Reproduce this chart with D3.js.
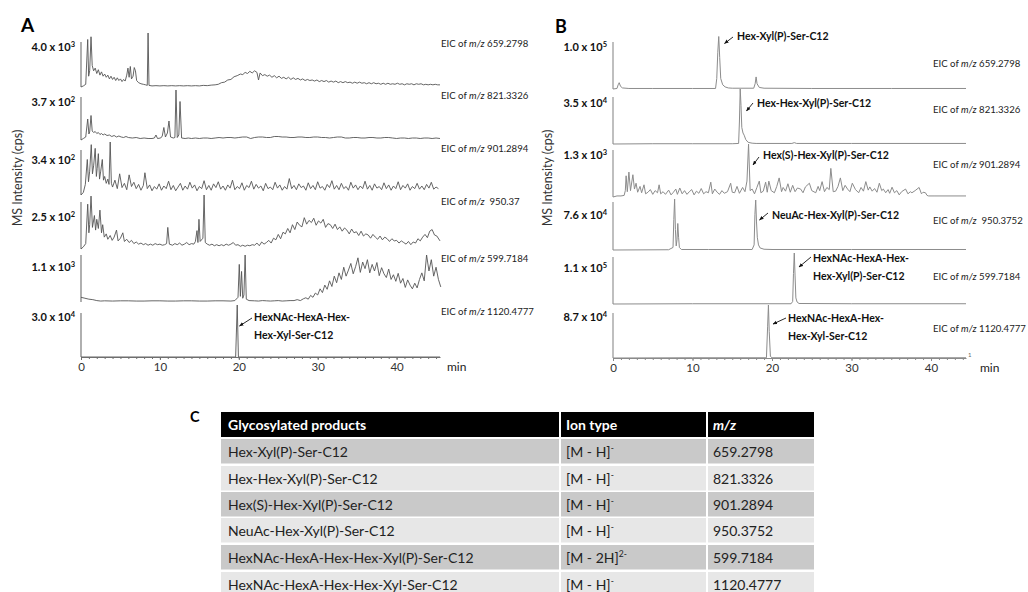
<!DOCTYPE html>
<html><head><meta charset="utf-8">
<script src="https://cdn.jsdelivr.net/npm/d3@7"></script>
<style>
body{margin:0;background:#fff}
svg{display:block;font-family:Lato,"Open Sans",sans-serif}
</style></head><body>
<svg id="fig" width="1028" height="592"></svg>
<script>
// ---- Panel A: EICs (time in min, intensity in % of the stated full scale) ----
const traceA1 = [[0,0],[0.3,2],[0.6,5],[0.85,88],[0.97,20],[1.1,30],[1.27,93],[1.42,40],[1.6,30],[1.8,35],[2.0,25],[2.2,32],[2.4,22],[2.6,28],[2.8,20],[3.0,24],[3.2,18],[3.4,22],[3.6,15],[3.8,20],[4.0,14],[4.2,18],[4.4,12],[4.6,17],[4.8,12],[5.0,15],[5.2,10],[5.4,14],[5.6,11],[5.8,22],[5.95,35],[6.1,18],[6.25,38],[6.4,15],[6.6,20],[6.75,36],[6.9,30],[7.05,12],[7.3,8],[7.6,6],[7.9,5],[8.2,4],[8.4,3],[8.5,100],[8.62,3],[9.0,2],[9.5,2.5],[10,2],[10.5,2.5],[11,2],[11.5,2.5],[12,2],[12.5,2.5],[13,2],[13.5,2.5],[14,2],[14.5,2.5],[15,2],[15.5,3],[16,2.5],[16.5,3.5],[17,4],[17.4,5],[17.8,8],[18.2,9],[18.6,13],[19.0,14],[19.4,19],[19.8,21],[20.2,24],[20.5,23],[20.8,27],[21.1,25],[21.4,29],[21.7,26],[22.0,30],[22.3,27],[22.5,13],[22.7,26],[23.0,21],[23.3,23],[23.6,20],[23.9,22],[24.2,18],[24.5,21],[24.8,17],[25.1,20],[25.4,16],[25.7,18],[26.0,15],[26.3,18],[26.6,14],[26.9,17],[27.2,14],[27.5,16],[27.8,13],[28.1,15],[28.4,12],[28.7,14],[29.0,12],[29.3,13],[29.6,11],[29.9,13],[30.2,10],[30.5,12],[30.8,10],[31.1,12],[31.4,9],[31.7,11],[32.0,9],[32.3,11],[32.6,8],[32.9,10],[33.2,8],[33.5,10],[33.8,8],[34.1,9],[34.4,7],[34.7,9],[35.0,7],[35.3,9],[35.6,7],[35.9,8],[36.2,6],[36.5,8],[36.8,6],[37.1,8],[37.4,6],[37.7,7],[38.0,5],[38.3,7],[38.6,5],[38.9,7],[39.2,5],[39.5,6],[39.8,5],[40.1,7],[40.4,5],[40.7,6],[41.0,4],[41.3,6],[41.6,5],[41.9,6],[42.2,4],[42.5,6],[42.8,5],[43.1,6],[43.4,4],[43.7,5],[44.0,4],[44.3,5],[44.6,4],[44.9,5],[45.2,4],[45.5,4]];
const traceA2 = [[0,0],[0.3,3],[0.6,6],[0.85,42],[1.0,12],[1.1,16],[1.27,49],[1.42,18],[1.6,15],[1.8,17],[2.0,13],[2.2,15],[2.4,11],[2.6,13],[2.8,10],[3.0,12],[3.3,9],[3.6,10],[3.9,7],[4.2,9],[4.5,6],[4.8,8],[5.1,6],[5.4,5],[5.7,7],[6.0,5],[6.5,4],[7.0,5],[7.5,3],[8.0,4],[8.5,3],[9.0,3],[9.3,4],[9.5,10],[9.7,3],[10.1,4],[10.3,8],[10.5,25],[10.7,6],[10.95,14],[11.15,38],[11.35,6],[11.7,4],[11.9,5],[12.04,100],[12.2,5],[12.4,10],[12.55,77],[12.75,4],[13.2,3],[13.6,4],[14,3],[14.5,4],[15,3],[15.5,4],[16,4],[16.5,3],[17,4],[17.5,5],[18,4],[18.5,5],[19,5],[19.5,4],[20,5],[20.5,6],[21,6],[21.5,3],[22,5],[22.5,6],[23,6],[23.5,5],[24,5],[24.5,7],[25,7],[25.5,6],[26,6],[26.5,5],[27,5],[27.5,6],[28,6],[28.5,5],[29,5],[29.5,6],[30,6],[30.5,5],[31,5],[31.5,4],[32,5],[32.5,6],[33,6],[33.5,4],[34,4],[34.5,5],[35,5],[35.5,4],[36,4],[36.5,5],[37,5],[37.5,4],[38,4],[38.5,5],[39,5],[39.5,4],[40,3],[40.5,4],[41,4],[41.5,3],[42,4],[42.5,4],[43,3],[43.5,4],[44,4],[44.5,3],[45,4],[45.5,3]];
const traceA3 = [[0,0],[0.3,5],[0.55,20],[0.8,67],[0.95,25],[1.1,45],[1.3,95],[1.45,40],[1.6,55],[1.8,88],[1.95,35],[2.05,50],[2.2,78],[2.35,30],[2.5,45],[2.7,67],[2.85,28],[3.0,35],[3.2,22],[3.4,30],[3.55,20],[3.7,100],[3.85,22],[4.0,15],[4.3,28],[4.6,12],[4.9,40],[5.2,14],[5.5,22],[5.8,10],[6.1,38],[6.4,16],[6.7,24],[7.0,12],[7.3,20],[7.6,9],[7.9,18],[8.1,42],[8.4,12],[8.7,19],[9.0,8],[9.3,16],[9.6,11],[9.9,21],[10.2,9],[10.5,17],[10.8,12],[11.1,26],[11.4,10],[11.7,18],[12.0,8],[12.3,15],[12.6,22],[12.9,9],[13.2,17],[13.5,11],[13.8,24],[14.1,13],[14.4,19],[14.7,8],[15.0,16],[15.3,12],[15.6,27],[15.9,10],[16.2,18],[16.5,9],[16.8,21],[17.1,14],[17.4,25],[17.7,11],[18.0,17],[18.3,9],[18.6,19],[18.9,13],[19.2,28],[19.5,10],[19.8,16],[20.1,12],[20.4,23],[20.7,9],[21.0,18],[21.3,14],[21.6,26],[21.9,11],[22.2,20],[22.5,13],[22.8,17],[23.1,8],[23.4,22],[23.7,12],[24.0,15],[24.3,10],[24.6,24],[24.9,13],[25.2,19],[25.5,9],[25.8,16],[26.1,11],[26.4,31],[26.7,12],[27.0,18],[27.3,10],[27.6,21],[27.9,14],[28.2,17],[28.5,9],[28.8,23],[29.1,12],[29.4,18],[29.7,10],[30.0,25],[30.3,13],[30.6,16],[30.9,9],[31.2,20],[31.5,14],[31.8,27],[32.1,11],[32.4,18],[32.7,10],[33.0,22],[33.3,12],[33.6,16],[33.9,9],[34.2,24],[34.5,13],[34.8,19],[35.1,10],[35.4,17],[35.7,12],[36.0,26],[36.3,11],[36.6,18],[36.9,9],[37.2,21],[37.5,13],[37.8,16],[38.1,10],[38.4,23],[38.7,12],[39.0,19],[39.3,9],[39.6,17],[39.9,12],[40.2,25],[40.5,10],[40.8,18],[41.1,13],[41.4,21],[41.7,9],[42.0,16],[42.3,12],[42.6,22],[42.9,11],[43.2,17],[43.5,10],[43.8,20],[44.1,13],[44.4,24],[44.7,11],[45.0,15],[45.3,12]];
const traceA4 = [[0,0],[0.3,4],[0.6,10],[0.85,83],[1.0,30],[1.1,45],[1.27,98],[1.45,40],[1.7,62],[1.85,35],[2.0,55],[2.2,38],[2.4,72],[2.6,30],[2.75,45],[2.95,22],[3.2,28],[3.4,18],[3.7,25],[3.95,16],[4.2,22],[4.5,35],[4.7,15],[5.0,20],[5.3,30],[5.5,14],[5.8,18],[6.1,12],[6.4,16],[6.7,10],[7.0,13],[7.3,9],[7.6,11],[7.9,8],[8.2,10],[8.5,7],[8.8,9],[9.1,7],[9.4,10],[9.7,8],[10.0,9],[10.3,7],[10.6,8],[10.85,10],[11.0,40],[11.2,9],[11.6,7],[11.9,10],[12.2,8],[12.5,11],[12.8,7],[13.1,9],[13.4,12],[13.7,8],[14.0,10],[14.3,9],[14.5,14],[14.7,34],[14.82,12],[14.95,55],[15.1,14],[15.45,20],[15.6,100],[15.75,12],[16.0,9],[16.3,7],[16.6,9],[16.9,6],[17.2,8],[17.5,6],[17.8,8],[18.1,6],[18.4,9],[18.7,7],[19.0,9],[19.3,12],[19.6,7],[19.9,8],[20.2,5],[20.5,7],[20.8,5],[21.1,7],[21.4,6],[21.7,8],[22.0,7],[22.3,11],[22.6,6],[22.9,13],[23.2,9],[23.5,12],[23.8,16],[24.1,11],[24.4,20],[24.7,17],[25.0,27],[25.3,19],[25.6,31],[25.9,28],[26.2,38],[26.5,30],[26.8,45],[27.1,36],[27.4,50],[27.7,44],[28.0,41],[28.3,58],[28.6,46],[28.9,53],[29.2,49],[29.5,57],[29.8,44],[30.1,52],[30.4,48],[30.7,55],[31.0,40],[31.3,47],[31.6,45],[31.9,38],[32.2,46],[32.5,36],[32.8,41],[33.1,33],[33.4,39],[33.7,35],[34.0,28],[34.3,37],[34.6,30],[34.9,32],[35.2,25],[35.5,33],[35.8,24],[36.1,28],[36.4,26],[36.7,20],[37.0,27],[37.3,22],[37.6,18],[37.9,24],[38.2,17],[38.5,22],[38.8,19],[39.1,14],[39.4,19],[39.7,15],[40.0,16],[40.3,11],[40.6,15],[40.9,12],[41.2,9],[41.5,14],[41.8,8],[42.1,13],[42.4,11],[42.7,19],[43.0,15],[43.3,22],[43.6,27],[43.9,21],[44.2,33],[44.5,36],[44.8,26],[45.1,24],[45.5,15]];
const traceA5 = [[0,10],[0.5,8],[1.0,6],[1.5,5],[2.0,3],[2.5,2],[3,2.5],[4,2],[5,2.5],[6,2.5],[7,2],[8,2],[9,2.5],[10,2.5],[11,2],[12,2],[13,2.5],[14,2.5],[15,2],[16,2],[17,2.5],[18,2.5],[19,2],[19.5,3],[19.9,10],[20.06,80],[20.2,12],[20.35,65],[20.5,8],[20.65,15],[20.8,100],[20.95,6],[21.3,3],[22,2.5],[22.5,2],[23,3],[23.5,2.5],[24,2],[24.5,2.5],[25,3],[25.5,2],[26,2.5],[26.5,3],[27.0,3],[27.4,5],[27.8,3],[28.2,7],[28.5,9],[28.8,6],[29.1,14],[29.4,10],[29.7,19],[30.0,15],[30.3,28],[30.6,20],[30.9,36],[31.2,27],[31.5,45],[31.8,33],[32.1,55],[32.4,41],[32.7,62],[33.0,48],[33.3,74],[33.6,55],[33.9,68],[34.2,82],[34.5,60],[34.8,75],[35.1,94],[35.4,63],[35.7,85],[36.0,71],[36.3,90],[36.6,62],[36.9,80],[37.2,66],[37.5,84],[37.8,56],[38.1,73],[38.4,60],[38.7,52],[39.0,70],[39.3,48],[39.6,58],[39.9,44],[40.2,61],[40.5,40],[40.8,50],[41.1,31],[41.4,47],[41.7,36],[42.0,28],[42.3,40],[42.6,30],[42.9,48],[43.2,62],[43.5,45],[43.8,100],[44.1,66],[44.4,90],[44.7,55],[45.0,74],[45.3,48],[45.6,32]];
const traceA6 = [[0,0],[19.6,0],[19.8,100],[19.95,0],[45.5,0]];

// ---- Panel B: EICs ----
const traceB1 = [[0,0],[0.5,1],[0.65,8],[0.78,12],[0.95,5],[1.2,2],[2,1],[5,1],[10,1],[12.9,1],[13.05,20],[13.18,70],[13.3,100],[13.42,60],[13.55,20],[13.8,8],[14.1,4],[14.5,2],[15,1.5],[17.7,1.5],[17.88,10],[18.0,23],[18.12,10],[18.4,3],[19,1.5],[25,1],[35,1],[44.4,1]];
const traceB2 = [[0,0],[5,0.5],[10,0.5],[15,0.5],[15.8,1],[15.9,40],[16.0,100],[16.1,70],[16.2,30],[16.35,20],[16.5,16],[16.7,8],[17,3],[17.5,1.5],[18,1],[22.5,1],[22.8,2.5],[23.1,1],[30,1],[44.4,1]];
const traceB3 = [[0,0],[0.5,2],[1.0,2],[1.4,3],[1.55,12],[1.65,40],[1.8,10],[2.0,47],[2.2,12],[2.5,42],[2.7,15],[2.9,26],[3.1,9],[3.4,20],[3.6,8],[3.9,23],[4.1,6],[4.4,9],[4.7,14],[5.0,5],[5.3,12],[5.6,8],[5.8,23],[6.0,6],[6.3,10],[6.6,5],[7.0,13],[7.3,4],[7.6,9],[7.9,15],[8.1,5],[8.4,17],[8.7,6],[9.0,12],[9.3,5],[9.6,10],[9.9,14],[10.2,4],[10.5,11],[10.8,7],[11.1,16],[11.4,6],[11.7,10],[12.0,8],[12.3,28],[12.5,6],[12.8,15],[13.1,9],[13.4,5],[13.7,12],[14.0,7],[14.4,10],[14.8,26],[15.0,9],[15.3,8],[15.6,20],[15.9,7],[16.3,18],[16.6,10],[16.85,30],[17.05,100],[17.25,12],[17.5,15],[17.8,6],[18.1,18],[18.4,30],[18.6,8],[18.9,11],[19.2,28],[19.4,9],[19.6,30],[19.9,12],[20.3,8],[20.6,20],[20.9,36],[21.2,10],[21.4,18],[21.7,11],[22.0,25],[22.3,9],[22.6,22],[22.9,10],[23.2,17],[23.6,15],[23.9,8],[24.2,19],[24.7,26],[25.0,12],[25.5,8],[25.8,20],[26.0,12],[26.3,29],[26.6,10],[26.9,18],[27.2,14],[27.4,54],[27.7,10],[28.0,11],[28.3,20],[28.6,36],[28.9,12],[29.2,22],[29.5,15],[29.8,10],[30.1,26],[30.5,14],[30.9,8],[31.2,18],[31.5,11],[31.8,29],[32.1,13],[32.3,19],[32.6,11],[32.9,16],[33.2,9],[33.5,26],[33.8,12],[34.0,15],[34.3,8],[34.6,14],[34.8,7],[35.1,18.5],[35.4,8],[35.7,12],[36.0,4],[36.3,10],[36.8,15],[37.1,6],[37.4,10],[37.6,8],[38.0,12],[38.5,18],[38.8,6],[39.0,9],[39.3,8],[39.5,3],[39.7,2],[40.5,2],[44.4,2]];
const traceB4 = [[0,0],[7.0,0.5],[7.55,5],[7.65,60],[7.75,100],[7.85,40],[7.95,8],[8.05,20],[8.15,52],[8.25,25],[8.35,5],[8.6,1],[12,1],[17.5,1],[17.75,10],[17.85,70],[17.95,98],[18.05,55],[18.15,25],[18.3,10],[18.5,4],[19,1.5],[20,1],[30,1],[44.4,1]];
const traceB5 = [[0,0],[10,0.5],[22.4,0.5],[22.6,5],[22.7,60],[22.8,100],[22.9,55],[23.0,12],[23.15,4],[23.4,1],[30,0.5],[44.4,0.5]];
const traceB6 = [[0,0],[10,0.5],[19.3,0.5],[19.45,60],[19.55,100],[19.65,50],[19.8,3],[20,0.5],[30,0.5],[44.4,0.5]];

// full-scale intensity of each trace: [mantissa, exponent]
const scaleA = [["4.0","3"],["3.7","2"],["3.4","2"],["2.5","2"],["1.1","3"],["3.0","4"]];
const scaleB = [["1.0","5"],["3.5","4"],["1.3","3"],["7.6","4"],["1.1","5"],["8.7","4"]];
const eicA = ["659.2798","821.3326","901.2894"," 950.37","599.7184","1120.4777"];
const eicB = ["659.2798","821.3326","901.2894"," 950.3752","599.7184","1120.4777"];
const timeTicks = [0,10,20,30,40];

// peak annotations in panel B (and the last trace of panel A)
const peakNamesB = [["Hex-Xyl(P)-Ser-C12"],["Hex-Hex-Xyl(P)-Ser-C12"],["Hex(S)-Hex-Xyl(P)-Ser-C12"],["NeuAc-Hex-Xyl(P)-Ser-C12"],["HexNAc-HexA-Hex-","Hex-Xyl(P)-Ser-C12"],["HexNAc-HexA-Hex-","Hex-Xyl-Ser-C12"]];
const peakNameA6 = ["HexNAc-HexA-Hex-","Hex-Xyl-Ser-C12"];

// ---- Panel C table ----
const tableHeader = ["Glycosylated products","Ion type","m/z"];
const products = ["Hex-Xyl(P)-Ser-C12","Hex-Hex-Xyl(P)-Ser-C12","Hex(S)-Hex-Xyl(P)-Ser-C12","NeuAc-Hex-Xyl(P)-Ser-C12","HexNAc-HexA-Hex-Hex-Xyl(P)-Ser-C12","HexNAc-HexA-Hex-Hex-Xyl-Ser-C12"];
const ionTypes = [["[M - H]","-"],["[M - H]","-"],["[M - H]","-"],["[M - H]","-"],["[M - 2H]","2-"],["[M - H]","-"]];
const mzValues = ["659.2798","821.3326","901.2894","950.3752","599.7184","1120.4777"];

// ---------------- drawing ----------------
const svg = d3.select("#fig");

// strip layout: baseline, y of 100 %, top of the axis stub, label y, EIC label baseline
const layoutA = [
  {base:87, top:33, axisTop:42, labY:51, eicY:46.5},
  {base:140, top:90, axisTop:97, labY:106, eicY:98.5},
  {base:195, top:142, axisTop:150, labY:164, eicY:151.5},
  {base:249, top:195, axisTop:202, labY:221, eicY:205},
  {base:302, top:255, axisTop:255, labY:271, eicY:261.5},
  {base:357, top:305, axisTop:313, labY:321, eicY:315}
];
const layoutB = [
  {base:89, top:36.5, axisTop:42, labY:51, eicY:66.5},
  {base:144, top:89, axisTop:97, labY:107, eicY:112.5},
  {base:197, top:144, axisTop:150, labY:159, eicY:167.5},
  {base:250, top:199, axisTop:202, labY:219, eicY:223.5},
  {base:304, top:253, axisTop:257, labY:272, eicY:280},
  {base:358, top:305, axisTop:313, labY:321, eicY:331.5}
];

const xA = d3.scaleLinear().domain([0,45.5]).range([81,440]);
const xB = d3.scaleLinear().domain([0,44.4]).range([613,966]);

svg.append("defs").append("marker")
  .attr("id","arr").attr("viewBox","0 0 10 10").attr("refX",9).attr("refY",5)
  .attr("markerWidth",5).attr("markerHeight",5).attr("orient","auto")
  .append("path").attr("d","M0,1 L10,5 L0,9 Z").attr("fill","#111");

function scaleLabel(g, x, y, s){
  const t = g.append("text").attr("x",x).attr("y",y).attr("text-anchor","end")
    .attr("font-size",11).attr("font-weight","bold").attr("fill","#111");
  t.append("tspan").text(s[0] + " x 10");
  t.append("tspan").attr("font-size",7.5).attr("dy",-4.5).text(s[1]);
}

function eicLabel(g, x, y, val){
  const t = g.append("text").attr("x",x).attr("y",y).attr("font-size",9.6)
    .attr("fill","#222").style("white-space","pre");
  t.append("tspan").text("EIC of ");
  t.append("tspan").attr("font-style","italic").text("m/z");
  t.append("tspan").text(" " + val);
}

function panel(x, traces, layout, scales, eics, opt){
  const g = svg.append("g");
  traces.forEach((tr,i)=>{
    const L = layout[i];
    const y = d3.scaleLinear().domain([0,100]).range([L.base, L.top]);
    g.append("line").attr("x1",x(0)).attr("x2",x(0)).attr("y1",L.axisTop).attr("y2",L.base)
      .attr("stroke",opt.axis).attr("stroke-width",1.1);
    g.append("path").datum(tr)
      .attr("d", d3.line().x(d=>x(d[0])).y(d=>y(d[1])))
      .attr("fill","none").attr("stroke",opt.line).attr("stroke-width",opt.lw).attr("stroke-linejoin","round");
    scaleLabel(g, opt.labX, L.labY, scales[i]);
    eicLabel(g, opt.eicX, L.eicY, eics[i]);
  });
  // time axis under the last trace
  const yb = layout[layout.length-1].base;
  const minor = d3.range(0, Math.floor(x.domain()[1])+1);
  g.append("g").attr("transform",`translate(0,${yb})`)
    .call(d3.axisBottom(x).tickValues(minor).tickSize(2).tickFormat(""))
    .call(a=>a.select(".domain").remove())
    .selectAll("line").attr("stroke",opt.axis);
  const ax = g.append("g").attr("transform",`translate(0,${yb})`)
    .call(d3.axisBottom(x).tickValues(timeTicks).tickSize(3).tickSizeOuter(0).tickPadding(3));
  ax.select(".domain").attr("stroke",opt.axis).attr("stroke-width",1.1);
  ax.selectAll(".tick line").attr("stroke",opt.axis);
  ax.selectAll(".tick text").attr("font-size",11.5).attr("fill","#333").attr("font-family","Lato,sans-serif");
  g.append("text").attr("x",x.range()[1]+opt.minDx).attr("y",yb+14).attr("font-size",12).attr("fill","#222").text("min");
  // y title
  g.append("text").attr("transform",`translate(${opt.titleX},178) rotate(-90)`)
    .attr("text-anchor","middle").attr("font-size",12.5).attr("fill","#333").text("MS Intensity (cps)");
  return g;
}

const gA = panel(xA, [traceA1,traceA2,traceA3,traceA4,traceA5,traceA6], layoutA, scaleA, eicA,
  {axis:"#6e6e6e", line:"#555", lw:0.9, labX:75, eicX:441, minDx:7, titleX:22});
const gB = panel(xB, [traceB1,traceB2,traceB3,traceB4,traceB5,traceB6], layoutB, scaleB, eicB,
  {axis:"#8a8a8a", line:"#8c8c8c", lw:1, labX:607, eicX:933, minDx:14, titleX:552});
gB.append("text").attr("x",968).attr("y",357).attr("font-size",6).attr("fill","#666").text("1");

// panel letters
svg.append("text").attr("x",21).attr("y",32).attr("font-size",19).attr("font-weight","bold").text("A");
svg.append("text").attr("x",555).attr("y",33).attr("font-size",18).attr("font-weight","bold").text("B");
svg.append("text").attr("x",190).attr("y",422).attr("font-size",14.5).attr("font-weight","bold").text("C");

// peak annotations: text anchor, arrow start and arrow tip
function annotate(g, lines, tx, ty, ax1, ay1, ax2, ay2){
  g.append("line").attr("x1",ax1).attr("y1",ay1).attr("x2",ax2).attr("y2",ay2)
    .attr("stroke","#111").attr("stroke-width",0.9).attr("marker-end","url(#arr)");
  lines.forEach((s,k)=>g.append("text").attr("x",tx).attr("y",ty+k*17.5)
    .attr("font-size",10.5).attr("font-weight","bold").attr("fill","#111").text(s));
}
const annB = [
  [737,39.5,733,37,724.5,43.5],
  [757,107,753,103,746.5,111],
  [763,159,759,157,753,165],
  [772,219,768,213,759.5,220],
  [813,262,811,257,799,267],
  [788,322,786,318,773,324]
];
peakNamesB.forEach((n,i)=>{ const a = annB[i]; annotate(gB, n, ...a); });
annotate(gA, peakNameA6, 254, 321, 252, 318, 239.5, 326);

// ---- table ----
const colEdges = [221, 560, 707, 814];
const rowTops = [412, 439, 466, 492, 518, 545, 572];
const gT = svg.append("g");
const rows = [tableHeader].concat(products.map((p,i)=>[p, ionTypes[i], mzValues[i]]));
rows.forEach((r,ri)=>{
  const yt = rowTops[ri];
  const fill = ri===0 ? "#000" : (ri%2===1 ? "#c9c9c9" : "#e7e7e7");
  for(let c=0;c<3;c++){
    const x0 = colEdges[c] + (c>0?1:0), x1 = colEdges[c+1] - (c<2?1:0);
    gT.append("rect").attr("x",x0).attr("y",yt).attr("width",x1-x0).attr("height",ri===0?25:24.5).attr("fill",fill);
    const t = gT.append("text").attr("x",colEdges[c]+(c===0?7:6)).attr("y",yt+17.5)
      .attr("font-size",14).attr("fill", ri===0?"#fff":"#222").attr("font-weight", ri===0?"bold":"normal");
    if(ri===0 && c===2){ t.attr("font-style","italic").text(r[c]); }
    else if(ri>0 && c===1){
      t.append("tspan").text(r[c][0]);
      t.append("tspan").attr("font-size",8.5).attr("dy",-6).text(r[c][1]);
    } else t.text(r[c]);
  }
});
</script>
</body></html>
